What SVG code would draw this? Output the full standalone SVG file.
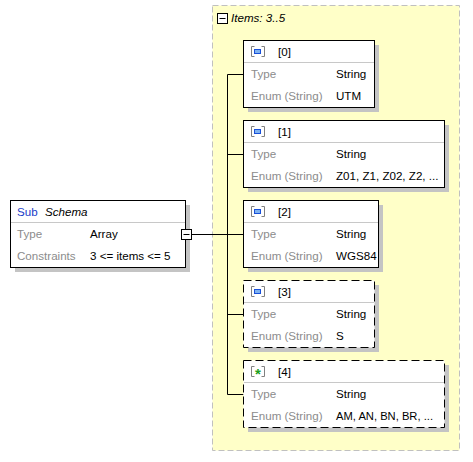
<svg xmlns="http://www.w3.org/2000/svg" width="473" height="462" viewBox="0 0 473 462">
<style>
text{font-family:"Liberation Sans",Arial,sans-serif;font-size:11.6px;fill:#000}
.lbl{fill:#8c8c8c}
.sub{fill:#1a3cc8}
.it{font-style:italic}
.box{fill:#fff;stroke:#000;stroke-width:1}
.dash{stroke-dasharray:8,4}
.sh{fill:#c4c4c4}
.sep{stroke:#c8c8c8;stroke-width:1}
.con{stroke:#000;stroke-width:1;fill:none}
.brk{fill:none;stroke:#808080;stroke-width:1}
.sq{fill:#7fb2f0;stroke:#1a50d8;stroke-width:1}
</style>
<rect x="212.5" y="5.5" width="247" height="445" fill="#ffffc8" stroke="#c0c0c0" stroke-dasharray="6,3"/>
<g id="items-header">
<rect x="217.5" y="13.5" width="10" height="10" fill="#fff" stroke="#000"/>
<line x1="219.5" y1="18.5" x2="225.5" y2="18.5" stroke="#000"/>
<text x="231" y="22" class="it">Items: 3..5</text>
</g>
<g id="connectors">
<line class="con" x1="191.5" y1="234.5" x2="227.5" y2="234.5"/>
<line class="con" x1="227.5" y1="74.5" x2="227.5" y2="394.5"/>
<line class="con" x1="227.5" y1="74.5" x2="243.5" y2="74.5"/>
<line class="con" x1="227.5" y1="154.5" x2="243.5" y2="154.5"/>
<line class="con" x1="227.5" y1="234.5" x2="243.5" y2="234.5"/>
<line class="con" x1="227.5" y1="314.5" x2="243.5" y2="314.5"/>
<line class="con" x1="227.5" y1="394.5" x2="243.5" y2="394.5"/>
</g>
<g id="schema">
<rect class="sh" x="15" y="205" width="175" height="67"/>
<rect class="box" x="10.5" y="200.5" width="175" height="67"/>
<line class="sep" x1="11" y1="222.5" x2="185" y2="222.5"/>
<text x="17" y="216" class="sub">Sub</text>
<text x="45" y="216" class="it">Schema</text>
<text x="17" y="238" class="lbl">Type</text>
<text x="90" y="238">Array</text>
<text x="17" y="260" class="lbl">Constraints</text>
<text x="90" y="260">3 &lt;= items &lt;= 5</text>
<rect x="181.5" y="229.5" width="10" height="10" fill="#fff" stroke="#000"/>
<line x1="183.5" y1="234.5" x2="189.5" y2="234.5" stroke="#000"/>
</g>
<g id="item0">
<rect class="sh" x="248" y="45" width="131" height="67"/>
<rect class="box" x="243.5" y="40.5" width="131" height="67"/>
<line class="sep" x1="244" y1="62.5" x2="374" y2="62.5"/>
<path class="brk" d="M254.5,46.5h-3v10h3M261.5,46.5h3v10h-3"/>
<rect class="sq" x="254.5" y="49.5" width="6" height="4"/>
<text x="278" y="56">[0]</text>
<text x="251" y="78" class="lbl">Type</text>
<text x="336" y="78">String</text>
<text x="251" y="100" class="lbl">Enum (String)</text>
<text x="336" y="100">UTM</text>
</g>
<g id="item1">
<rect class="sh" x="248" y="125" width="201" height="67"/>
<rect class="box" x="243.5" y="120.5" width="201" height="67"/>
<line class="sep" x1="244" y1="142.5" x2="444" y2="142.5"/>
<path class="brk" d="M254.5,126.5h-3v10h3M261.5,126.5h3v10h-3"/>
<rect class="sq" x="254.5" y="129.5" width="6" height="4"/>
<text x="278" y="136">[1]</text>
<text x="251" y="158" class="lbl">Type</text>
<text x="336" y="158">String</text>
<text x="251" y="180" class="lbl">Enum (String)</text>
<text x="336" y="180">Z01, Z1, Z02, Z2, ...</text>
</g>
<g id="item2">
<rect class="sh" x="248" y="205" width="135" height="67"/>
<rect class="box" x="243.5" y="200.5" width="135" height="67"/>
<line class="sep" x1="244" y1="222.5" x2="378" y2="222.5"/>
<path class="brk" d="M254.5,206.5h-3v10h3M261.5,206.5h3v10h-3"/>
<rect class="sq" x="254.5" y="209.5" width="6" height="4"/>
<text x="278" y="216">[2]</text>
<text x="251" y="238" class="lbl">Type</text>
<text x="336" y="238">String</text>
<text x="251" y="260" class="lbl">Enum (String)</text>
<text x="336" y="260">WGS84</text>
</g>
<g id="item3">
<rect class="sh" x="248" y="285" width="131" height="67"/>
<rect class="box dash" x="243.5" y="280.5" width="131" height="67"/>
<line class="sep" x1="244" y1="302.5" x2="374" y2="302.5"/>
<path class="brk" d="M254.5,286.5h-3v10h3M261.5,286.5h3v10h-3"/>
<rect class="sq" x="254.5" y="289.5" width="6" height="4"/>
<text x="278" y="296">[3]</text>
<text x="251" y="318" class="lbl">Type</text>
<text x="336" y="318">String</text>
<text x="251" y="340" class="lbl">Enum (String)</text>
<text x="336" y="340">S</text>
</g>
<g id="item4">
<rect class="sh" x="248" y="365" width="201" height="67"/>
<rect class="box dash" x="243.5" y="360.5" width="201" height="67"/>
<line class="sep" x1="244" y1="382.5" x2="444" y2="382.5"/>
<path class="brk" d="M254.5,366.5h-3v10h3M261.5,366.5h3v10h-3"/>
<text x="258" y="379" style="font-size:15px;font-weight:bold;fill:#20a020" text-anchor="middle">*</text>
<text x="278" y="376">[4]</text>
<text x="251" y="398" class="lbl">Type</text>
<text x="336" y="398">String</text>
<text x="251" y="420" class="lbl">Enum (String)</text>
<text x="336" y="420" textLength="97" lengthAdjust="spacingAndGlyphs">AM, AN, BN, BR, ...</text>
</g>
</svg>
